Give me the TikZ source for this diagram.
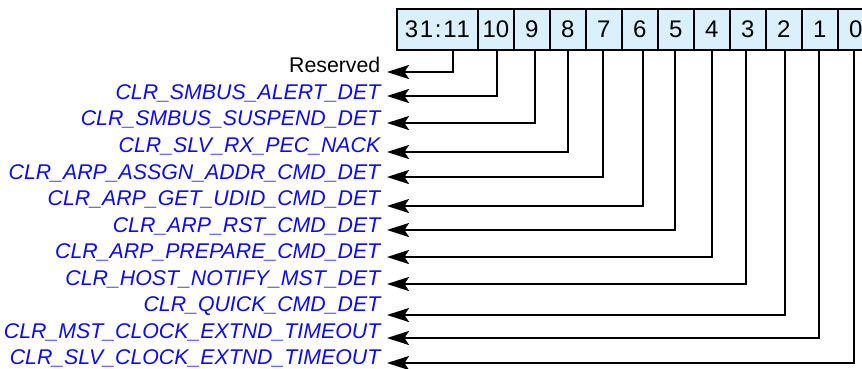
\documentclass[tikz,border=0pt]{standalone}
\usepackage{fontspec}
\setmainfont{Liberation Sans}
\usetikzlibrary{arrows.meta}
\definecolor{cellfill}{RGB}{218,240,252}
\definecolor{lblblue}{RGB}{10,10,250}
\tikzset{
  cell/.style={draw=black, line width=1.8pt, fill=cellfill, minimum height=41pt, inner sep=0pt, anchor=north west, font=\fontsize{24}{28}\selectfont},
  lbl/.style={anchor=base east, inner sep=0pt, text=lblblue, font=\fontsize{21.3}{25}\selectfont\itshape},
  rlbl/.style={anchor=base east, inner sep=0pt, text=black, font=\fontsize{21.3}{25}\selectfont},
  conn/.style={line width=2pt},
  tip/.tip={Stealth[length=22pt,width=14pt,inset=4.5pt]}
}
\begin{document}
\begin{tikzpicture}[x=1pt,y=-1pt]
\useasboundingbox (0,0) rectangle (862,368);
% register cells
\node[cell, minimum width=81pt] (c31) at (396,8) {\addfontfeature{LetterSpace=7}31:11};
\foreach \b [count=\i from 0] in {10,9,8,7,6,5,4,3,2,1,0} {
  \node[cell, minimum width=36pt] (c\b) at ({477+36*\i},8) {\b};
}
% labels
\node[rlbl] (l31) at (380.5,72.3) {Reserved};
\node[lbl] (l10) at (380.5,99.5) {CLR\_SMBUS\_ALERT\_DET};
\node[lbl] (l9) at (380.5,125.8) {CLR\_SMBUS\_SUSPEND\_DET};
\node[lbl] (l8) at (380.5,152.4) {CLR\_SLV\_RX\_PEC\_NACK};
\node[lbl] (l7) at (380.5,179) {CLR\_ARP\_ASSGN\_ADDR\_CMD\_DET};
\node[lbl] (l6) at (380.5,205.6) {CLR\_ARP\_GET\_UDID\_CMD\_DET};
\node[lbl] (l5) at (380.5,232) {CLR\_ARP\_RST\_CMD\_DET};
\node[lbl] (l4) at (380.5,258.5) {CLR\_ARP\_PREPARE\_CMD\_DET};
\node[lbl] (l3) at (380.5,285.1) {CLR\_HOST\_NOTIFY\_MST\_DET};
\node[lbl] (l2) at (380.5,311.7) {CLR\_QUICK\_CMD\_DET};
\node[lbl] (l1) at (380.5,338.3) {CLR\_MST\_CLOCK\_EXTND\_TIMEOUT};
\node[lbl] (l0) at (380.5,364.9) {CLR\_SLV\_CLOCK\_EXTND\_TIMEOUT};
% arrow tips
\coordinate (t31) at (387,72);
\coordinate (t10) at (387,96);
\coordinate (t9) at (387,123);
\coordinate (t8) at (387,152);
\coordinate (t7) at (387,177);
\coordinate (t6) at (387,206);
\coordinate (t5) at (387,230);
\coordinate (t4) at (387,257);
\coordinate (t3) at (387,284);
\coordinate (t2) at (387,315);
\coordinate (t1) at (387,338);
\coordinate (t0) at (387,363);
% connectors
\draw[conn, -tip] ([xshift=15.5pt]c31.south) |- (t31);
\draw[conn, -tip] ([xshift=1.5pt]c10.south) |- (t10);
\draw[conn, -tip] ([xshift=3pt]c9.south) |- (t9);
\draw[conn, -tip] (c8.south) |- (t8);
\draw[conn, -tip] ([xshift=-1.3pt]c7.south) |- (t7);
\draw[conn, -tip] ([xshift=2.7pt]c6.south) |- (t6);
\draw[conn, -tip] ([xshift=-1pt]c5.south) |- (t5);
\draw[conn, -tip] (c4.south) |- (t4);
\draw[conn, -tip] ([xshift=-2pt]c3.south) |- (t3);
\draw[conn, -tip] ([xshift=1pt]c2.south) |- (t2);
\draw[conn, -tip] ([xshift=-1.3pt]c1.south) |- (t1);
\draw[conn, -tip] ([xshift=-2pt]c0.south) |- (t0);
\end{tikzpicture}
\end{document}
